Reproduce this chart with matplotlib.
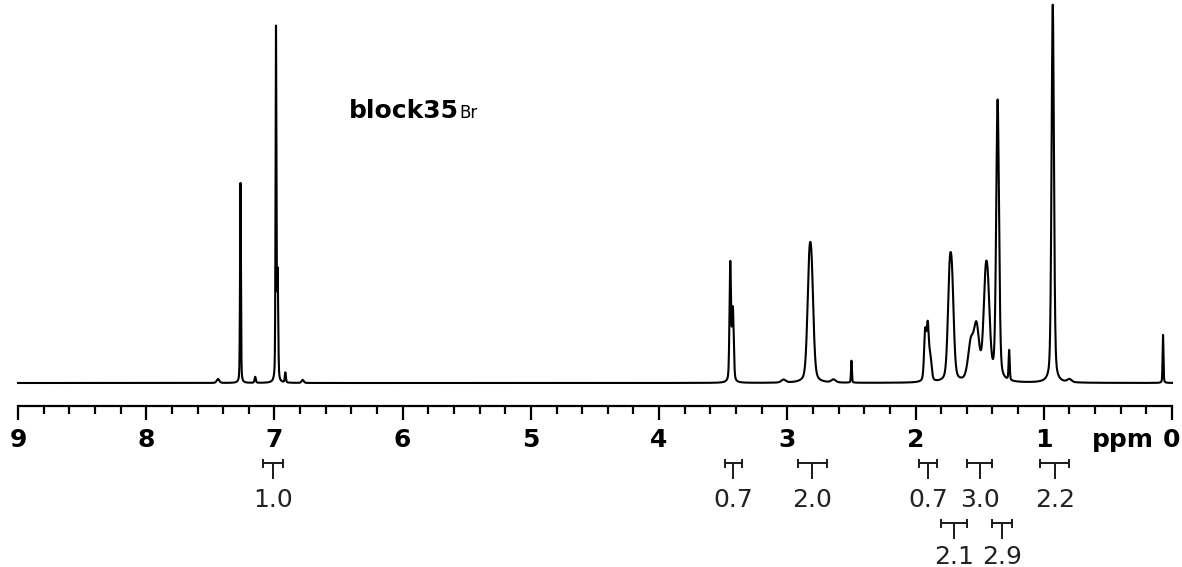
import numpy as np
import matplotlib
matplotlib.use("Agg")
import matplotlib.pyplot as plt

# ---- data ----
# peak centres (ppm), heights (arbitrary units = px above baseline), half widths (ppm)
peak_ppm = [7.44, 7.265, 7.15, 6.988, 6.975, 6.915, 6.78,
            3.445, 3.425, 3.03, 2.83, 2.81, 2.64, 2.50,
            1.925, 1.905, 1.885, 1.735, 1.715, 1.57, 1.525, 1.455, 1.435,
            1.36, 1.27, 0.93, 0.80, 0.07]
peak_height = [4, 200, 6, 352, 105, 10, 3,
               118, 72, 3, 92, 86, 3, 22,
               48, 52, 22, 88, 80, 35, 52, 78, 64,
               280, 30, 378, 3, 48]
peak_width = [0.012, 0.004, 0.006, 0.004, 0.005, 0.005, 0.01,
              0.007, 0.008, 0.02, 0.018, 0.018, 0.02, 0.004,
              0.010, 0.010, 0.012, 0.017, 0.017, 0.025, 0.025, 0.02, 0.02,
              0.013, 0.005, 0.011, 0.02, 0.004]

# integration regions (ppm start, ppm end, value label, row)
int_start = [7.09, 3.49, 2.92, 1.97, 1.60, 1.03, 1.80, 1.40]
int_end = [6.93, 3.35, 2.69, 1.83, 1.40, 0.80, 1.60, 1.25]
int_label = ["1.0", "0.7", "2.0", "0.7", "3.0", "2.2", "2.1", "2.9"]
int_row = [0, 0, 0, 0, 0, 0, 1, 1]

major_ticks = [9, 8, 7, 6, 5, 4, 3, 2, 1, 0]
major_labels = ["9", "8", "7", "6", "5", "4", "3", "2", "1", "0"]

# ---- build spectrum ----
x = np.linspace(9, 0, 9001)
y = np.zeros_like(x)
for c, h, w in zip(peak_ppm, peak_height, peak_width):
    lor = 1.0 / (1.0 + ((x - c) / w) ** 2)
    gau = np.exp(-np.log(2) * ((x - c) / w) ** 2)
    y += h * (0.35 * lor + 0.65 * gau)

W, H = 1182, 567
fig = plt.figure(figsize=(W / 100, H / 100), dpi=100)
ax_bottom_px = 406
ax = fig.add_axes([18 / W, (H - ax_bottom_px) / H, (1172 - 18) / W, ax_bottom_px / H])
ax.plot(x, y, color="black", lw=1.5, clip_on=False)
ax.set_xlim(9, 0)
ax.set_ylim(-23, 383)

for s in ["top", "right", "left"]:
    ax.spines[s].set_visible(False)
ax.spines["bottom"].set_linewidth(1.6)
ax.set_yticks([])
ax.set_xticks(major_ticks)
ax.set_xticklabels(major_labels, fontsize=18, fontweight="bold")
ax.set_xticks(np.arange(0, 9.01, 0.2), minor=True)
ax.tick_params(axis="x", which="major", direction="out", length=10, width=1.6, pad=6)
ax.tick_params(axis="x", which="minor", direction="out", length=6, width=1.6)

ax.text(0.38, -57, "ppm", fontsize=18, fontweight="bold", ha="center", va="center",
        clip_on=False)

# integration brackets
row_y = [-80, -140]
row_text = [-124, -181]
for s, e, lab, r in zip(int_start, int_end, int_label, int_row):
    yy = row_y[r]
    mid = (s + e) / 2
    kw = dict(color="#1a1a1a", lw=1.4, clip_on=False, solid_capstyle="butt")
    ax.plot([s, e], [yy, yy], **kw)
    ax.plot([s, s], [yy + 4, yy - 5], **kw)
    ax.plot([e, e], [yy + 4, yy - 5], **kw)
    ax.plot([mid, mid], [yy, yy - 16], **kw)
    ax.text(mid, row_text[r], lab, fontsize=18, ha="center", va="baseline",
            color="#222222", clip_on=False)

# sample label
ax.text(6.42, 265, "block35", fontsize=18, fontweight="bold",
        ha="left", va="baseline")
ax.text(5.56, 265, "Br", fontsize=12, ha="left", va="baseline")

fig.savefig("out.png", dpi=100)
